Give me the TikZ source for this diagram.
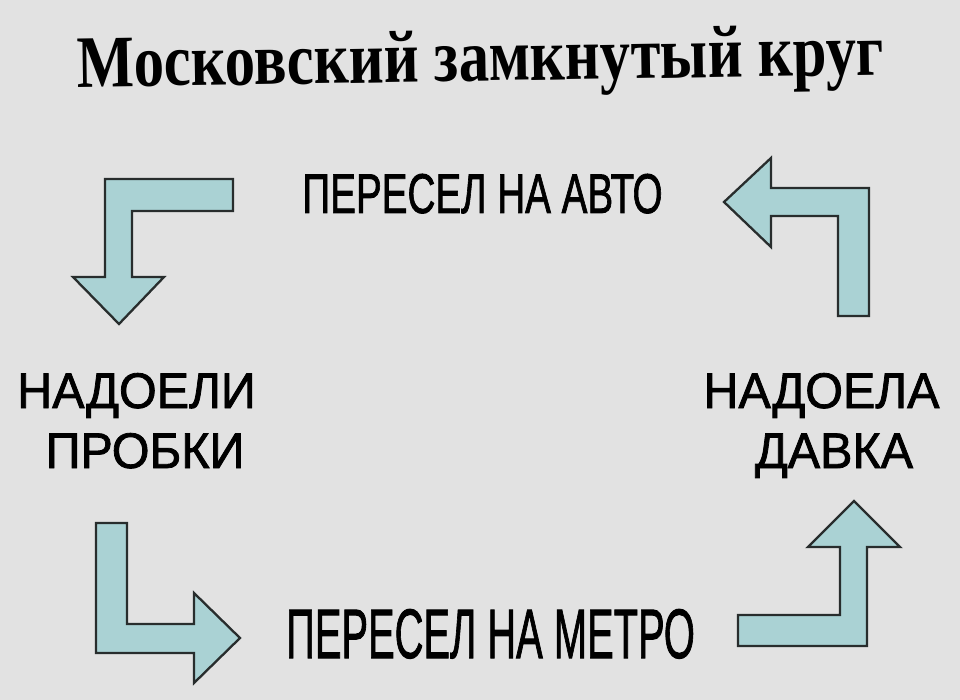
\documentclass[tikz,border=0pt]{standalone}
\usepackage{fontspec}
\setmainfont{Liberation Sans}[FakeBold=1.2]
\newfontfamily\heavyfont{Liberation Sans}[FakeBold=1.6]
\newfontfamily\titlefont{Liberation Serif}
\definecolor{bgcol}{RGB}{226,226,226}
\definecolor{arrowfill}{RGB}{170,210,212}
\definecolor{arrowline}{RGB}{40,45,45}
\tikzset{
  bentarrow/.style={fill=arrowfill,draw=arrowline,line width=2.3pt,line join=miter},
  lbl/.style={inner sep=0pt,anchor=base,xscale=0.97,font=\heavyfont\fontsize{50}{56}\selectfont},
  wide/.style={inner sep=0pt,anchor=base,font=\heavyfont\fontsize{#1}{#1}\selectfont}
}
\begin{document}
\begin{tikzpicture}[x=1pt,y=-1pt]
  \useasboundingbox (0,0) rectangle (960,700);
  \fill[bgcol] (0,0) rectangle (960,700);
  \path (481,81) node[inner sep=0pt,anchor=base,rotate=0.9,xscale=0.82,font=\titlefont\bfseries\fontsize{74}{74}\selectfont] (title) {Московский замкнутый круг};
  \draw[bentarrow] (233,179)--(105,179)--(105,277)--(73,277)--(119,324)--(164,277)--(132,277)--(132,211)--(233,211)--cycle;
  \draw[bentarrow] (724,202)--(771,158)--(771,188)--(869,188)--(869,316)--(838,316)--(838,216)--(771,216)--(771,247)--cycle;
  \draw[bentarrow] (96,523)--(127,523)--(127,624)--(194,624)--(194,593)--(240,638)--(194,683)--(194,653)--(96,653)--cycle;
  \draw[bentarrow] (738,615)--(840,615)--(840,547)--(808,547)--(854,501)--(900,547)--(867,547)--(867,646)--(738,646)--cycle;
  \path (482.5,213) node[wide=56,xscale=0.69] (avto) {ПЕРЕСЕЛ НА АВТО};
  \path (490.5,658) node[wide=70,xscale=0.57] (metro) {ПЕРЕСЕЛ НА МЕТРО};
  \path (136.5,408) node[lbl] (nadoeli) {НАДОЕЛИ} (145,468) node[lbl] (probki) {ПРОБКИ};
  \path (821.5,408) node[lbl] (nadoela) {НАДОЕЛА} (834,468) node[lbl] (davka) {ДАВКА};
\end{tikzpicture}
\end{document}
